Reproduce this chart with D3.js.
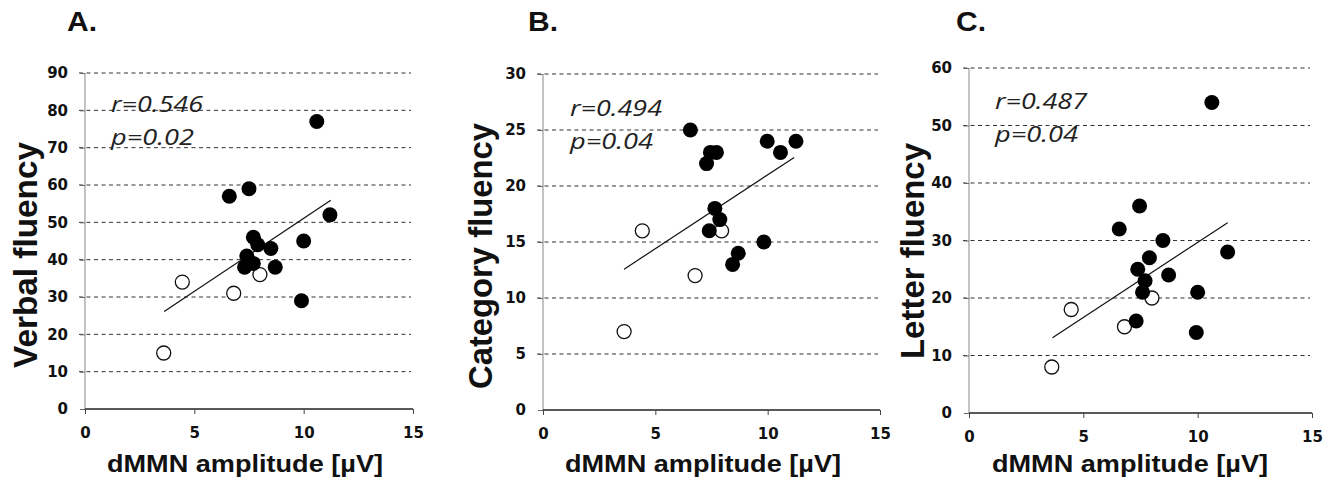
<!DOCTYPE html>
<html>
<head>
<meta charset="utf-8">
<script src="https://cdn.jsdelivr.net/npm/d3@7"></script>
<style>
  body { margin: 0; background: #fff; }
  svg { display: block; }
</style>
</head>
<body>
<svg id="container" width="1334" height="478"></svg>
<script>
// Panel A - verbal fluency
var verbalFilled = [[10.6, 77], [6.6, 57], [7.5, 59], [11.2, 52], [10.0, 45], [7.7, 46], [7.9, 44],
    [8.5, 43], [7.4, 41], [7.3, 38], [7.7, 39], [8.7, 38], [9.9, 29]];
var verbalOpen = [[3.6, 15], [4.45, 34], [6.8, 31], [8.0, 36]];
var verbalFit = [[3.62, 26.1], [11.24, 55.9]];

// Panel B - category fluency
var categoryFilled = [[6.56, 25], [7.45, 23], [7.72, 23], [7.28, 22], [9.98, 24], [10.57, 23], [11.26, 24],
    [7.65, 18], [7.87, 17], [7.4, 16], [8.69, 14], [8.44, 13], [9.83, 15]];
var categoryOpen = [[3.61, 7], [4.42, 16], [6.77, 12], [7.95, 16]];
var categoryFit = [[3.61, 12.57], [11.18, 22.55]];

// Panel C - letter fluency
var letterFilled = [[10.62, 54], [7.46, 36], [6.57, 32], [8.48, 30], [7.89, 27], [11.31, 28], [7.38, 25],
    [8.73, 24], [7.7, 23], [7.59, 21], [10.0, 21], [7.31, 16], [9.94, 14]];
var letterOpen = [[3.62, 8], [4.47, 18], [6.8, 15], [8.0, 20]];
var letterFit = [[3.65, 13.1], [11.31, 33.1]];

var panelLetters = ["A.", "B.", "C."];
var yTitles = ["Verbal fluency", "Category fluency", "Letter fluency"];
var xTitle = "dMMN amplitude [\u00b5V]";
var xTicks = [0, 5, 10, 15];
var yTicksA = [0, 10, 20, 30, 40, 50, 60, 70, 80, 90];
var yTicksB = [0, 5, 10, 15, 20, 25, 30];
var yTicksC = [0, 10, 20, 30, 40, 50, 60];
var rTexts = ["r=0.546", "r=0.494", "r=0.487"];
var pTexts = ["p=0.02", "p=0.04", "p=0.04"];

var panels = [
    { box: [85, 413, 73, 409], yTicks: yTicksA, filled: verbalFilled, open: verbalOpen, fit: verbalFit,
      letterX: 67, titleX: 25, titleY: 255, titleLen: 226, statX: 111, statY: 112, xTitleX: 245 },
    { box: [543, 880, 74, 410], yTicks: yTicksB, filled: categoryFilled, open: categoryOpen, fit: categoryFit,
      letterX: 528, titleX: 480, titleY: 256, titleLen: 266, statX: 570, statY: 116, xTitleX: 703 },
    { box: [969, 1312, 68, 413], yTicks: yTicksC, filled: letterFilled, open: letterOpen, fit: letterFit,
      letterX: 956, titleX: 912, titleY: 251, titleLen: 216, statX: 995, statY: 109, xTitleX: 1130 }
];

var svg = d3.select("#container");

panels.forEach(function(p, i)
{
    var left = p.box[0], right = p.box[1], top = p.box[2], bottom = p.box[3];
    var yMax = p.yTicks[p.yTicks.length - 1];
    var x = d3.scaleLinear().domain([0, 15]).range([left, right]);
    var y = d3.scaleLinear().domain([0, yMax]).range([bottom, top]);

    // panel letter
    svg.append("text").attr("x", p.letterX).attr("y", 31)
        .attr("font-family", "Liberation Sans, Arial, sans-serif").attr("font-weight", "bold")
        .attr("font-size", 28).attr("fill", "#111")
        .attr("textLength", 30).attr("lengthAdjust", "spacingAndGlyphs").text(panelLetters[i]);

    // dashed grid lines (with a short tick left of the axis)
    var grid = svg.append("g");
    grid.selectAll("line").data(p.yTicks.filter(function(d) { return d > 0; })).join("line")
        .attr("x1", left - 6).attr("x2", right - 2)
        .attr("y1", function(d) { return y(d); }).attr("y2", function(d) { return y(d); })
        .attr("stroke", "#333").attr("stroke-width", 1).attr("stroke-dasharray", "4,3.5");

    // y axis
    var yAxis = svg.append("g").attr("transform", "translate(" + left + ",0)")
        .call(d3.axisLeft(y).tickValues(p.yTicks).tickSize(5).tickPadding(12));
    yAxis.select(".domain").attr("stroke", "#888").attr("d", "M0," + bottom + "V" + top);
    yAxis.selectAll(".tick line").attr("stroke", "#666");
    yAxis.selectAll("text").attr("font-family", "DejaVu Sans, sans-serif").attr("font-weight", "bold")
        .attr("font-size", 15).attr("fill", "#111");

    // x axis
    var xAxis = svg.append("g").attr("transform", "translate(0," + bottom + ")")
        .call(d3.axisBottom(x).tickValues(xTicks).tickSize(5).tickPadding(13));
    xAxis.select(".domain").attr("stroke", "#222").attr("stroke-width", 1.5).attr("d", "M" + left + ",0H" + right);
    xAxis.selectAll(".tick line").attr("stroke", "#444");
    xAxis.selectAll("text").attr("font-family", "DejaVu Sans, sans-serif").attr("font-weight", "bold")
        .attr("font-size", 15).attr("fill", "#111");

    // axis titles
    svg.append("text").attr("transform", "translate(" + p.titleX + "," + p.titleY + ") rotate(-90)")
        .attr("text-anchor", "middle").attr("dominant-baseline", "central")
        .attr("font-family", "Liberation Sans, Arial, sans-serif").attr("font-weight", "bold")
        .attr("font-size", 33).attr("fill", "#111")
        .attr("textLength", p.titleLen).attr("lengthAdjust", "spacingAndGlyphs")
        .text(yTitles[i]);
    svg.append("text").attr("x", p.xTitleX).attr("y", 472).attr("text-anchor", "middle")
        .attr("font-family", "Liberation Sans, Arial, sans-serif").attr("font-weight", "bold")
        .attr("font-size", 23).attr("fill", "#111")
        .attr("textLength", 276).attr("lengthAdjust", "spacingAndGlyphs")
        .text(xTitle);

    // statistics text
    var stat = svg.append("g").attr("font-family", "Open Sans, sans-serif").attr("font-style", "italic")
        .attr("font-size", 22).attr("fill", "#222");
    stat.append("text").attr("x", p.statX).attr("y", p.statY)
        .attr("textLength", 92).attr("lengthAdjust", "spacingAndGlyphs").text(rTexts[i]);
    stat.append("text").attr("x", p.statX).attr("y", p.statY + 33)
        .attr("textLength", 83).attr("lengthAdjust", "spacingAndGlyphs").text(pTexts[i]);

    // regression line
    svg.append("path").datum(p.fit)
        .attr("d", d3.line().x(function(d) { return x(d[0]); }).y(function(d) { return y(d[1]); }))
        .attr("stroke", "#111").attr("stroke-width", 1.2).attr("fill", "none");

    // points
    svg.append("g").selectAll("circle").data(p.open).join("circle")
        .attr("cx", function(d) { return x(d[0]); }).attr("cy", function(d) { return y(d[1]); })
        .attr("r", 7).attr("fill", "#fff").attr("stroke", "#111").attr("stroke-width", 1.3);
    svg.append("g").selectAll("circle").data(p.filled).join("circle")
        .attr("cx", function(d) { return x(d[0]); }).attr("cy", function(d) { return y(d[1]); })
        .attr("r", 7.5).attr("fill", "#000");
});
</script>
</body>
</html>
